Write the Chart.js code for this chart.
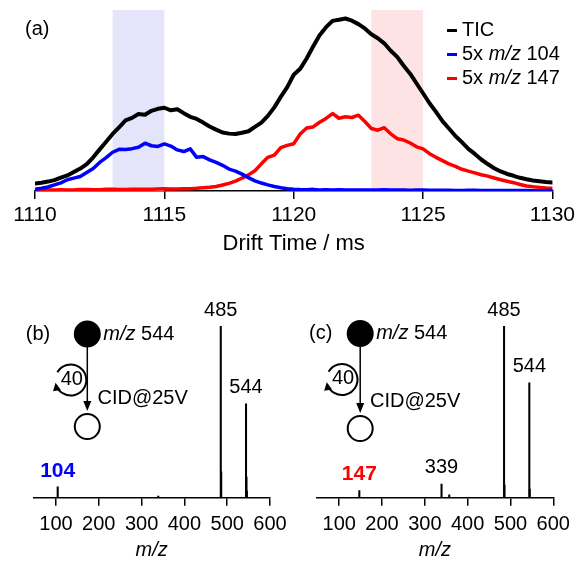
<!DOCTYPE html>
<html>
<head>
<meta charset="utf-8">
<script src="https://cdn.jsdelivr.net/npm/chart.js@4.4.1/dist/chart.umd.min.js"></script>
<style>
  html, body { margin: 0; padding: 0; background: #fff; overflow: hidden; }
  #wrap { position: relative; width: 579px; height: 562px; overflow: hidden; }
  canvas { position: absolute; left: 0; top: 0; }
</style>
</head>
<body>
<div id="wrap">
  <canvas id="drift" width="579" height="600"></canvas>
  <canvas id="spec104" width="579" height="600"></canvas>
  <canvas id="spec147" width="579" height="600"></canvas>
</div>
<script>
// panel (a): arrival time distributions
const driftTime = [
  1110, 1110.25, 1110.5, 1110.75, 1111, 1111.25, 1111.5, 1111.75, 1112, 1112.25,
  1112.5, 1112.75, 1113, 1113.25, 1113.5, 1113.75, 1114, 1114.25, 1114.5, 1114.75,
  1115, 1115.25, 1115.5, 1115.75, 1116, 1116.25, 1116.5, 1116.75, 1117, 1117.25,
  1117.5, 1117.75, 1118, 1118.25, 1118.5, 1118.75, 1119, 1119.25, 1119.5, 1119.75,
  1120, 1120.25, 1120.5, 1120.75, 1121, 1121.25, 1121.5, 1121.75, 1122, 1122.25,
  1122.5, 1122.75, 1123, 1123.25, 1123.5, 1123.75, 1124, 1124.25, 1124.5, 1124.75,
  1125, 1125.25, 1125.5, 1125.75, 1126, 1126.25, 1126.5, 1126.75, 1127, 1127.25,
  1127.5, 1127.75, 1128, 1128.25, 1128.5, 1128.75, 1129, 1129.25, 1129.5, 1129.75, 1130];
const tic = [
  4.2, 4.6, 5.2, 6.0, 7.4, 8.6, 10.5, 12.4, 14.9, 18.6,
  23.0, 27.2, 31.5, 35.2, 39.0, 40.4, 42.5, 42.1, 44.3, 45.4,
  46.0, 44.6, 45.2, 43.0, 41.0, 39.8, 37.8, 35.6, 33.9, 32.3,
  31.7, 31.5, 32.2, 33.0, 35.4, 37.8, 41.5, 46.2, 52.0, 57.4,
  64.2, 67.5, 73.2, 79.8, 86.0, 90.5, 94.0, 94.6, 95.3, 94.1,
  92.2, 89.8, 86.6, 84.4, 81.6, 77.5, 74.1, 69.2, 64.8, 59.4,
  54.0, 48.5, 43.7, 38.6, 34.5, 30.4, 27.0, 23.3, 20.5, 17.4,
  14.9, 12.6, 10.8, 9.4, 8.4, 7.3, 6.5, 5.8, 5.4, 5.0, 4.7];
const mz104x5 = [
  0.9, 1.5, 2.2, 3.4, 4.5, 6.2, 7.1, 8.0, 10.2, 12.4,
  15.8, 18.4, 21.4, 23.0, 22.9, 23.4, 24.2, 26.4, 25.0, 24.6,
  26.0, 24.8, 22.7, 21.8, 23.3, 18.6, 19.0, 17.2, 15.8, 14.2,
  12.1, 11.0, 9.3, 7.4, 5.6, 4.4, 3.4, 2.5, 1.8, 1.3,
  1.0, 0.8, 0.7, 0.9, 0.6, 0.7, 0.5, 0.7, 0.6, 0.5,
  0.6, 0.5, 0.5, 0.6, 0.7, 0.6, 0.5, 0.5, 0.4, 0.5,
  0.5, 0.4, 0.4, 0.4, 0.4, 0.3, 0.3, 0.4, 0.4, 0.3,
  0.3, 0.3, 0.3, 0.3, 0.3, 0.3, 0.3, 0.2, 0.2, 0.3, 0.3];
const mz147x5 = [
  0.6, 0.5, 0.5, 0.6, 0.7, 0.6, 0.6, 0.8, 0.8, 0.7,
  0.7, 0.9, 0.9, 0.8, 0.8, 1.0, 1.0, 0.9, 0.9, 1.1,
  1.2, 1.1, 1.1, 1.2, 1.3, 1.5, 1.8, 2.1, 2.5, 3.3,
  4.2, 5.5, 7.1, 8.9, 11.2, 15.0, 18.6, 19.8, 24.0, 25.2,
  26.1, 31.5, 34.8, 35.4, 38.0, 40.1, 42.8, 40.2, 41.0, 40.6,
  41.9, 38.4, 34.5, 33.6, 35.0, 31.6, 28.9, 28.2, 26.5, 24.4,
  23.3, 20.6, 18.6, 16.8, 15.0, 13.6, 12.0, 11.0, 10.0, 9.0,
  8.2, 7.2, 6.2, 5.4, 4.6, 3.6, 2.8, 2.3, 2.0, 1.7, 1.5];
const driftTicks = [1110, 1115, 1120, 1125, 1130];
const window104 = [1113, 1115];
const window147 = [1123, 1125];

// panels (b) and (c): CID spectra
const mzTicks = [100, 200, 300, 400, 500, 600];
const peaks104Mz = [104, 339, 485, 486, 544, 545, 546];
const peaks104Int = [6.4, 1.0, 100, 15, 54.7, 12, 4];
const labels104 = [104, 485, 544];
const peaks147Mz = [147, 339, 357, 485, 486, 544, 545];
const peaks147Int = [4.1, 8.0, 1.6, 100, 7.4, 66.9, 5];
const labels147 = [147, 339, 485, 544];

const FONT = "'Liberation Sans', Arial, sans-serif";
Chart.defaults.font.family = FONT;
Chart.defaults.color = '#000';

function font(size, style) {
  return (style || '') + ' ' + size + 'px ' + FONT;
}

// draw text made of pieces, some italic
function drawParts(ctx, parts, x, y, size) {
  ctx.textBaseline = 'middle';
  ctx.textAlign = 'left';
  for (const [txt, it] of parts) {
    ctx.font = font(size, it ? 'italic' : '');
    ctx.fillText(txt, x, y);
    x += ctx.measureText(txt).width;
  }
}

const bands = {
  id: 'bands',
  beforeDatasetsDraw(chart, args, opts) {
    const {ctx, chartArea, scales} = chart;
    for (const w of opts.list) {
      const x0 = scales.x.getPixelForValue(w.range[0]);
      const x1 = scales.x.getPixelForValue(w.range[1]);
      ctx.save();
      ctx.fillStyle = w.color;
      ctx.fillRect(x0, chartArea.top, x1 - x0, chartArea.bottom - chartArea.top);
      ctx.restore();
    }
  }
};

const driftDeco = {
  id: 'driftDeco',
  afterDraw(chart) {
    const ctx = chart.ctx;
    ctx.save();
    ctx.fillStyle = '#000';
    ctx.font = font(20);
    ctx.textBaseline = 'middle';
    ctx.fillText('(a)', 25, 29);
    const rows = [
      {c: '#000', parts: [['TIC', false]]},
      {c: '#0000ff', parts: [['5x ', false], ['m/z', true], [' 104', false]]},
      {c: '#ff0000', parts: [['5x ', false], ['m/z', true], [' 147', false]]}
    ];
    rows.forEach((r, i) => {
      const y = 30.5 + i * 24;
      ctx.strokeStyle = r.c;
      ctx.lineWidth = 3;
      ctx.beginPath();
      ctx.moveTo(447, y);
      ctx.lineTo(457, y);
      ctx.stroke();
      ctx.fillStyle = '#000';
      drawParts(ctx, r.parts, 462, y, 20);
    });
    ctx.restore();
  }
};

const toXY = (ys) => ys.map((v, i) => ({x: driftTime[i], y: v}));

new Chart(document.getElementById('drift'), {
  type: 'line',
  data: {
    datasets: [
      {label: 'TIC', data: toXY(tic), borderColor: '#000', borderWidth: 4},
      {label: '5x m/z 104', data: toXY(mz104x5), borderColor: '#0000ff', borderWidth: 3.5},
      {label: '5x m/z 147', data: toXY(mz147x5), borderColor: '#ff0000', borderWidth: 3.5}
    ]
  },
  options: {
    responsive: false,
    animation: false,
    events: [],
    layout: {padding: {left: 35, right: 26, top: 10, bottom: 339}},
    elements: {
      point: {radius: 0},
      line: {tension: 0, borderJoinStyle: 'round', borderCapStyle: 'round'}
    },
    scales: {
      x: {
        type: 'linear', min: 1110, max: 1130,
        afterBuildTicks: s => { s.ticks = driftTicks.map(v => ({value: v})); },
        afterFit: s => { s.height = 70; },
        border: {display: true, color: '#000', width: 1.5},
        grid: {drawOnChartArea: false, drawTicks: true, tickLength: 8, color: '#000', lineWidth: 1.5},
        ticks: {font: {size: 21}, padding: 4, color: '#000', maxRotation: 0, callback: v => String(v)},
        title: {display: true, text: 'Drift Time / ms', font: {size: 22}, padding: {top: 0, bottom: 4}, color: '#000'}
      },
      y: {display: false, min: 0, max: 100}
    },
    plugins: {
      legend: {display: false},
      tooltip: {enabled: false},
      bands: {list: [
        {range: window104, color: '#e4e4fb'},
        {range: window147, color: '#fde3e3'}
      ]}
    }
  },
  plugins: [bands, driftDeco]
});

// scheme + peak labels for the spectra
const specDeco = {
  id: 'specDeco',
  afterDraw(chart, args, o) {
    const {ctx, scales} = chart;
    ctx.save();
    ctx.fillStyle = '#000';
    ctx.strokeStyle = '#000';
    // peak labels
    o.labels.forEach(m => {
      const idx = o.mz.indexOf(m);
      const px = scales.x.getPixelForValue(m);
      const py = scales.y.getPixelForValue(o.inten[idx]) - 16;
      ctx.textAlign = 'center';
      ctx.textBaseline = 'middle';
      if (m === o.hi) {
        ctx.font = font(21, 'bold');
        ctx.fillStyle = o.hiColor;
      } else {
        ctx.font = font(20);
        ctx.fillStyle = '#000';
      }
      ctx.fillText(String(m), px, py);
    });
    ctx.fillStyle = '#000';
    const d = o.scheme;
    ctx.font = font(20);
    ctx.textAlign = 'center';
    ctx.textBaseline = 'middle';
    ctx.fillText(d.tag, d.tagX, d.cy);
    // precursor
    ctx.beginPath();
    ctx.arc(d.cx, d.cy, 13.5, 0, Math.PI * 2);
    ctx.fill();
    drawParts(ctx, [['m/z', true], [' 544', false]], d.cx + 16, d.cy, 20);
    // vertical arrow
    ctx.lineWidth = 1.5;
    ctx.beginPath();
    ctx.moveTo(d.cx, d.cy + 13);
    ctx.lineTo(d.cx, d.tipY - 6);
    ctx.stroke();
    ctx.beginPath();
    ctx.moveTo(d.cx, d.tipY);
    ctx.lineTo(d.cx - 4, d.tipY - 10);
    ctx.lineTo(d.cx + 4, d.tipY - 10);
    ctx.closePath();
    ctx.fill();
    // product
    ctx.lineWidth = 2;
    ctx.beginPath();
    ctx.arc(d.cx, d.tipY + 15.5, 12.5, 0, Math.PI * 2);
    ctx.stroke();
    // cycling arrow
    const a0 = 210 * Math.PI / 180, a1 = 160 * Math.PI / 180;
    ctx.beginPath();
    ctx.arc(d.rx, d.ry, 15.5, a0, a1, false);
    ctx.stroke();
    const at = 170 * Math.PI / 180;
    const tx = d.rx + 15.5 * Math.cos(at), ty = d.ry + 15.5 * Math.sin(at);
    const dx = -Math.sin(at), dy = Math.cos(at);
    ctx.beginPath();
    ctx.moveTo(tx, ty);
    ctx.lineTo(tx - dx * 8 - dy * 4, ty - dy * 8 + dx * 4);
    ctx.lineTo(tx - dx * 8 + dy * 4, ty - dy * 8 - dx * 4);
    ctx.closePath();
    ctx.fill();
    ctx.font = font(20);
    ctx.textAlign = 'center';
    ctx.fillText('40', d.rx + 1, d.ry - 1);
    ctx.textAlign = 'left';
    ctx.fillText('CID@25V', d.cidX, d.cidY);
    ctx.restore();
  }
};

function spectrum(id, mz, inten, labels, hi, hiColor, left, right, scheme) {
  return new Chart(document.getElementById(id), {
    type: 'bar',
    data: {
      datasets: [{
        data: mz.map((m, i) => ({x: m, y: inten[i]})),
        backgroundColor: '#000',
        borderWidth: 0,
        barThickness: 1.4
      }]
    },
    options: {
      responsive: false,
      animation: false,
      events: [],
      layout: {padding: {left: left, right: right, top: 326, bottom: 36.3}},
      scales: {
        x: {
          type: 'linear', min: 47, max: 600, offset: false,
          afterBuildTicks: s => { s.ticks = mzTicks.map(v => ({value: v})); },
          afterFit: s => { s.height = 66; },
          border: {display: true, color: '#000', width: 1.5},
          grid: {drawOnChartArea: false, drawTicks: true, tickLength: 8, color: '#000', lineWidth: 1.5, offset: false},
          ticks: {font: {size: 20}, padding: 7, color: '#000', maxRotation: 0},
          title: {display: true, text: 'm/z', font: {size: 20, style: 'italic'}, padding: {top: 0, bottom: 1}, color: '#000'}
        },
        y: {display: false, min: 0, max: 100}
      },
      plugins: {
        legend: {display: false},
        tooltip: {enabled: false},
        specDeco: {mz: mz, inten: inten, labels: labels, hi: hi, hiColor: hiColor, scheme: scheme}
      }
    },
    plugins: [specDeco]
  });
}

spectrum('spec104', peaks104Mz, peaks104Int, labels104, 104, '#0000ff', 33.3, 309,
  {tag: '(b)', tagX: 38, cx: 87.3, cy: 334, tipY: 411, rx: 70.8, ry: 380, cidX: 97.5, cidY: 398.5});
spectrum('spec147', peaks147Mz, peaks147Int, labels147, 147, '#ff0000', 316.5, 25.7,
  {tag: '(c)', tagX: 320.7, cx: 360.2, cy: 333.5, tipY: 413, rx: 342, ry: 379.5, cidX: 370, cidY: 401.5});
</script>
</body>
</html>
